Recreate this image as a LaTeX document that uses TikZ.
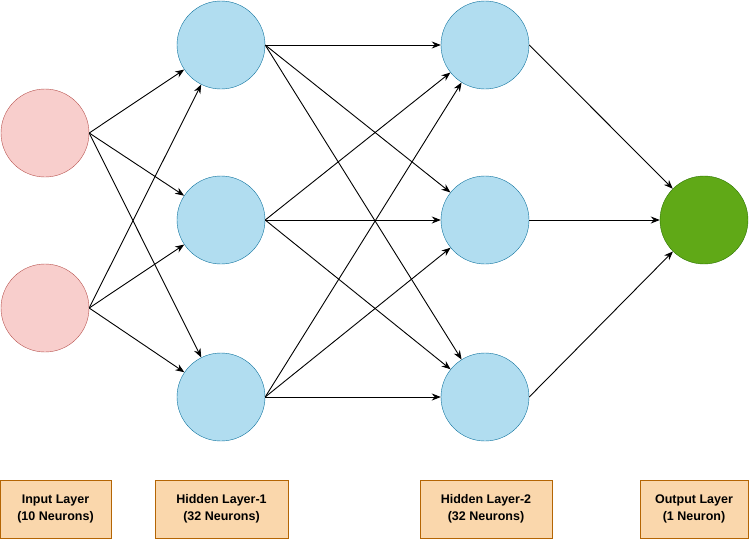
\documentclass[tikz,border=0pt]{standalone}
\usepackage{fontspec}
\setmainfont{Liberation Sans}
\usetikzlibrary{arrows.meta}
\definecolor{bf}{HTML}{B1DDF0}\definecolor{bs}{HTML}{10739E}
\definecolor{rf}{HTML}{F8CECC}\definecolor{rs}{HTML}{B85450}
\definecolor{gf}{HTML}{60A917}\definecolor{gs}{HTML}{2D7600}
\definecolor{of}{HTML}{FAD7AC}\definecolor{os}{HTML}{B46504}
\begin{document}
\begin{tikzpicture}[x=1pt,y=-1pt,
 neu/.style={circle,draw,minimum size=88pt,inner sep=0pt},
 inp/.style={neu,fill=rf,draw=rs},
 hid/.style={neu,fill=bf,draw=bs},
 outn/.style={neu,fill=gf,draw=gs},
 lab/.style={draw=os,fill=of,font=\bfseries\fontsize{12.5}{17}\selectfont,align=center,minimum height=58pt,inner sep=0pt},
 e/.style={-{Stealth[length=9pt,width=7pt]},line width=0.9pt}]
\useasboundingbox (0,0) rectangle (749,541);
\node[inp] (i1) at (45,133) {};
\node[inp] (i2) at (45,308) {};
\foreach \n/\y in {1/45,2/220,3/397}{
 \node[hid] (a\n) at (221,\y) {};
 \node[hid] (b\n) at (485,\y) {};}
\node[outn] (o) at (704,220) {};
\foreach \i in {1,2}{\foreach \j in {1,2,3}{\draw[e] (i\i.east) -- (a\j);}}
\foreach \i in {1,2,3}{\foreach \j in {1,2,3}{\draw[e] (a\i.east) -- (b\j);}}
\foreach \i in {1,2,3}{\draw[e] (b\i.east) -- (o);}
\node[lab,minimum width=111pt] (l1) at (55.5,509) {Input Layer\\(10 Neurons)};
\node[lab,minimum width=133pt] (l2) at (221.5,509) {Hidden Layer-1\\(32 Neurons)};
\node[lab,minimum width=132pt] (l3) at (486,509) {Hidden Layer-2\\(32 Neurons)};
\node[lab,minimum width=108pt] (l4) at (694,509) {Output Layer\\(1 Neuron)};
\end{tikzpicture}
\end{document}
